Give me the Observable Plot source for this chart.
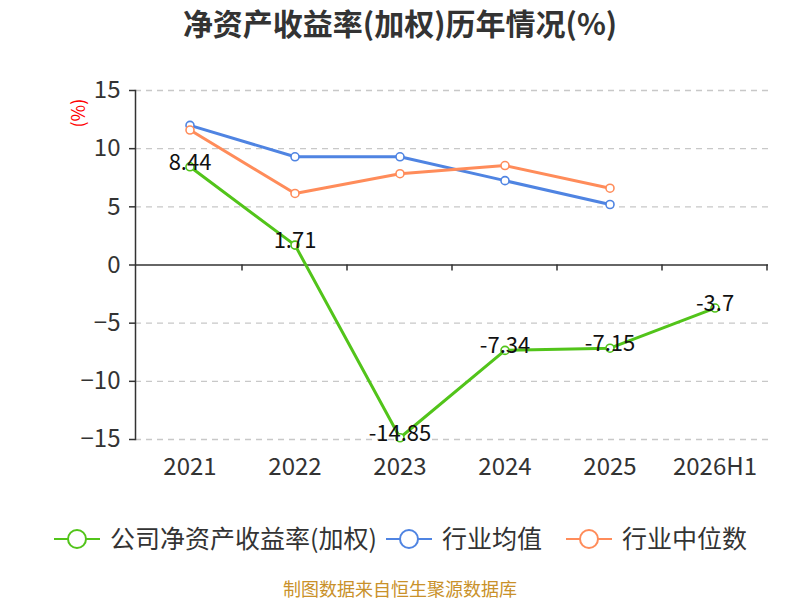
<!DOCTYPE html>
<html>
<head>
<meta charset="utf-8">
<script src="https://cdn.jsdelivr.net/npm/d3@7"></script>
<script src="https://cdn.jsdelivr.net/npm/@observablehq/plot@0.6"></script>
<style>
  html, body { margin: 0; padding: 0; background: #fff; }
  body { width: 800px; height: 600px; position: relative; overflow: hidden;
         font-family: "Noto Sans CJK SC", "Noto Sans", sans-serif; }
  #title { position: absolute; top: 0; left: 0; width: 800px; height: 45px; line-height: 45px;
           text-align: center; font-size: 30px; font-weight: bold; color: #333; }
  #chart { position: absolute; top: 45px; left: 0; }
  #legend { position: absolute; top: 518px; left: 0; width: 800px; height: 38px;
            font-size: 25px; color: #333; }
  .item { position: absolute; top: 0; height: 38px; line-height: 38px; white-space: nowrap; }
  .item svg { vertical-align: middle; margin-right: 9px; position: relative; top: -2px; }
  #caption { position: absolute; top: 576px; left: 0; width: 800px; text-align: center;
             font-size: 18px; line-height: 24px; color: #c9912a; }
</style>
</head>
<body>
<div id="title">净资产收益率(加权)历年情况(%)</div>
<div id="chart"></div>
<div id="legend"></div>
<div id="caption">制图数据来自恒生聚源数据库</div>
<script>
const categories = ["2021", "2022", "2023", "2024", "2025", "2026H1"];
const companyROE = [8.44, 1.71, -14.85, -7.34, -7.15, -3.7];
const industryAvg = [12.0, 9.3, 9.3, 7.25, 5.2, null];
const industryMedian = [11.6, 6.15, 7.85, 8.55, 6.6, null];
const seriesNames = ["公司净资产收益率(加权)", "行业均值", "行业中位数"];
const seriesColors = ["#52c41a", "#4f84e2", "#ff8c5a"];
const yTicks = [-15, -10, -5, 0, 5, 10, 15];

const seriesValues = [companyROE, industryAvg, industryMedian];
const data = [];
seriesValues.forEach((vals, si) => {
  vals.forEach((v, i) => {
    if (v !== null) data.push({series: seriesNames[si], cat: categories[i], value: v});
  });
});
const companyData = data.filter(d => d.series === seriesNames[0]);

const font = '"Noto Sans CJK SC", "Noto Sans", sans-serif';

const plot = Plot.plot({
  width: 800,
  height: 465,
  marginLeft: 135,
  marginRight: 32,
  marginTop: 45,
  marginBottom: 71,
  style: {fontFamily: font, background: "#fff", overflow: "visible"},
  x: {type: "band", domain: categories, padding: 0},
  y: {domain: [-15, 15]},
  color: {domain: seriesNames, range: seriesColors},
  marks: [
    Plot.gridY(yTicks.filter(t => t !== 0), {stroke: "#c8c8c8", strokeOpacity: 1, strokeDasharray: "6,5", strokeWidth: 1.3}),
    Plot.axisY(yTicks, {tickSize: 6, tickPadding: 9, fontSize: 24, fill: "#333", stroke: "#333", strokeWidth: 1.5, label: null}),
    Plot.axisX({anchor: "bottom", tickSize: 0, tickPadding: 18, fontSize: 24, fill: "#333", label: null}),
    Plot.frame({anchor: "left", stroke: "#333", strokeWidth: 1.5}),
    Plot.ruleY([0], {stroke: "#333", strokeWidth: 1.5}),
    Plot.text(["(%)"], {frameAnchor: "top-left", dx: -63, dy: 37, rotate: -90, fill: "red", fontSize: 18}),
    Plot.line(data, {x: "cat", y: "value", z: "series", stroke: "series", strokeWidth: 3}),
    Plot.dot(data, {x: "cat", y: "value", stroke: "series", fill: "#fff", r: 4, strokeWidth: 1.6}),
    Plot.text(companyData, {x: "cat", y: "value", text: d => String(d.value), fontSize: 22, fill: "#111", dy: -4})
  ]
});
document.getElementById("chart").appendChild(plot);

// x-axis tick marks at band boundaries along the zero line, via the plot's scales
const xs = plot.scale("x");
const ys = plot.scale("y");
const bw = xs.bandwidth;
const y0 = ys.apply(0);
const svg = d3.select(plot);
const bounds = categories.map(c => xs.apply(c)).concat([xs.apply(categories[categories.length - 1]) + bw]);
svg.append("g").selectAll("line").data(bounds.slice(1)).join("line")
  .attr("x1", d => d).attr("x2", d => d)
  .attr("y1", y0).attr("y2", y0 + 6)
  .attr("stroke", "#333").attr("stroke-width", 1.5);

// legend
const legend = document.getElementById("legend");
const lefts = [53, 385, 565];
seriesNames.forEach((name, i) => {
  const div = document.createElement("div");
  div.className = "item";
  div.style.left = lefts[i] + "px";
  div.innerHTML = `<svg width="48" height="22"><line x1="1" y1="11" x2="47" y2="11" stroke="${seriesColors[i]}" stroke-width="2"/><circle cx="24" cy="11" r="9" fill="#fff" stroke="${seriesColors[i]}" stroke-width="2"/></svg>${name}`;
  legend.appendChild(div);
});
</script>
</body>
</html>
